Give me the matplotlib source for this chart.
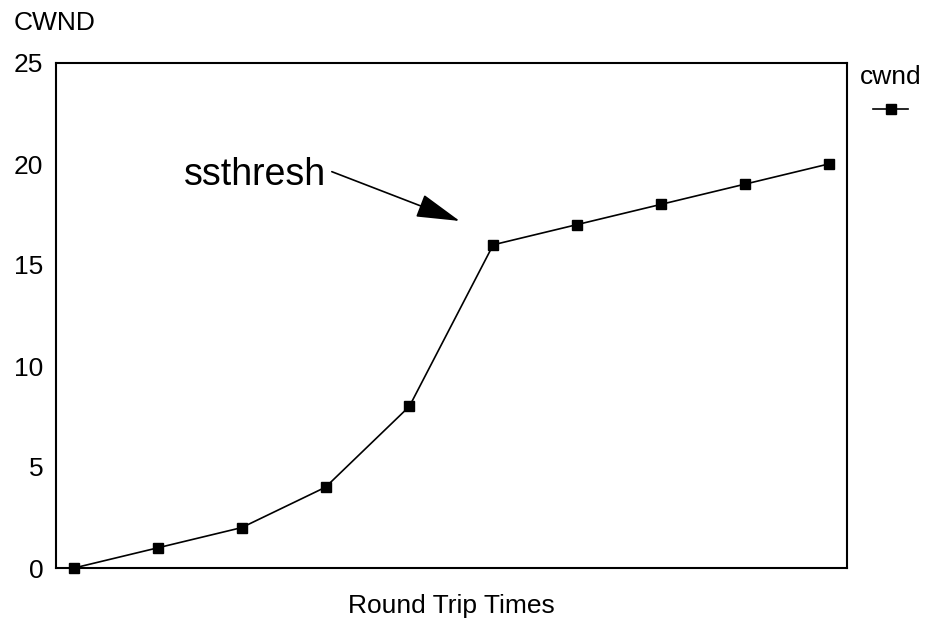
import matplotlib.pyplot as plt

# congestion window per round trip
rtt = [0, 1, 2, 3, 4, 5, 6, 7, 8, 9]
cwnd = [0, 1, 2, 4, 8, 16, 17, 18, 19, 20]
y_ticks = [0, 5, 10, 15, 20, 25]

plt.rcParams['font.family'] = ['Liberation Sans', 'DejaVu Sans']

fig = plt.figure(figsize=(9.28, 6.19), dpi=100)
ax = fig.add_axes([56 / 928, 1 - 568 / 619, 791 / 928, 505 / 619])

line, = ax.plot(rtt, cwnd, color='black', lw=1.2, marker='s', markersize=7.3,
                markerfacecolor='black', markeredgecolor='black', clip_on=False)

ax.set_xlim(-0.215, 9.22)
ax.set_ylim(0, 25)
ax.set_yticks(y_ticks)
ax.set_xticks([])
ax.tick_params(axis='y', length=0, pad=9, labelsize=19)
for sp in ax.spines.values():
    sp.set_linewidth(1.5)

ax.set_xlabel('Round Trip Times', fontsize=19, labelpad=19)
fig.text(14 / 928, 1 - 23 / 619, 'CWND', fontsize=19, va='center', ha='left')

# slow start threshold marker
ax.text(3.0, 19.45, 'ssthresh', fontsize=27, ha='right', va='center')
ax.annotate('', xy=(4.6, 17.18), xytext=(3.075, 19.62),
            arrowprops=dict(arrowstyle='-|>,head_length=1.1,head_width=0.3',
                            mutation_scale=25, lw=1.2, color='black',
                            shrinkA=0, shrinkB=0))

leg = ax.legend(handles=[line], labels=[''], title='cwnd', frameon=False,
                loc='upper left', bbox_to_anchor=(1.002, 1.018),
                handlelength=2.5, handletextpad=0, borderpad=0.3,
                labelspacing=1.0, title_fontsize=19)

fig.savefig('out.png', dpi=100)
